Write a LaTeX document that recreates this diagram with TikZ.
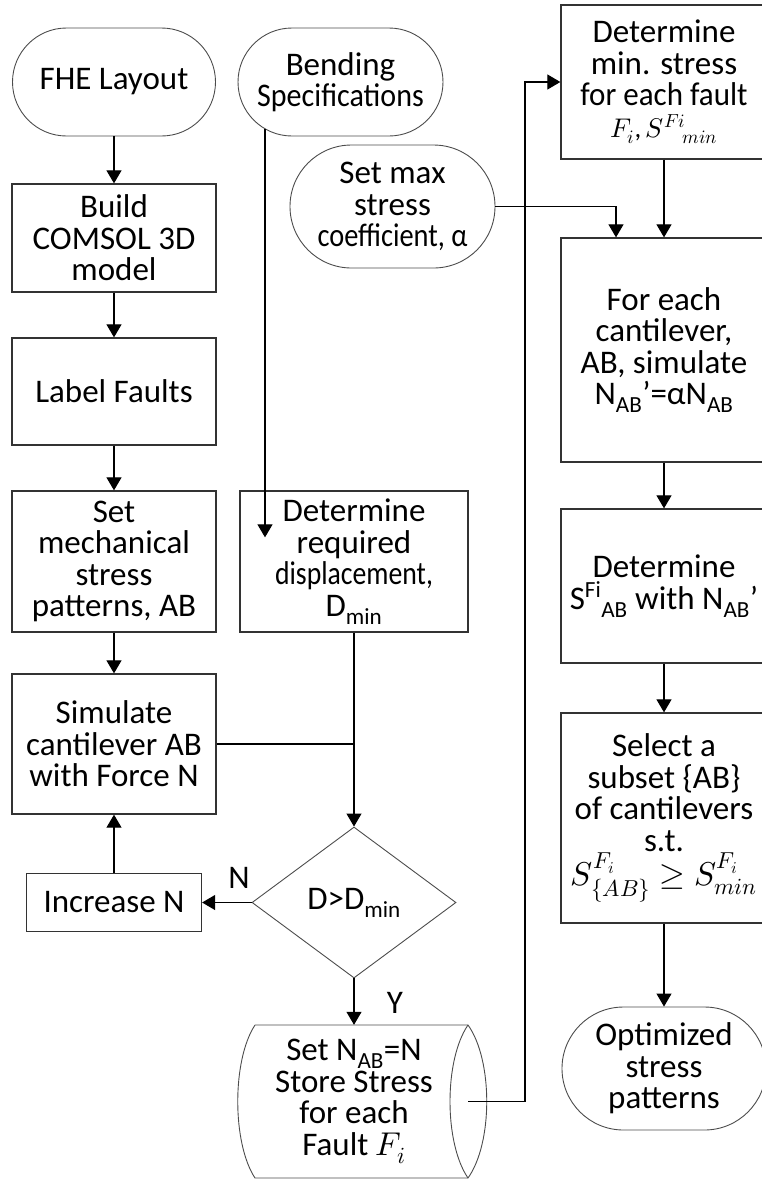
\documentclass[tikz,border=0pt]{standalone}
\usepackage{fontspec}
\usepackage{unicode-math}
\setmainfont{Carlito}
\setmathfont{Latin Modern Math}
\usepackage{tikz}
\usetikzlibrary{shapes, arrows.meta, positioning}

\tikzset{
  txt/.style={align=center, inner sep=0pt, font=\fontsize{33}{31.5}\selectfont},
  box/.style={txt, draw=black!80, line width=1.3pt, minimum width=204pt},
  term/.style={txt, draw=black!70, line width=0.9pt},
  arr/.style={-{Triangle[length=13pt,width=15pt]}, line width=1.1pt}
}
% squeeze a line that is wider than its box
\newcommand{\squeeze}[2]{\scalebox{#1}[1]{#2}}

\begin{document}
\begin{tikzpicture}[x=1pt, y=-1pt]
        \useasboundingbox (0,0) rectangle (762,1179);
        \clip (0,0) rectangle (762,1179);
        % left column
        \node[term, minimum width=203pt, minimum height=108pt, rounded corners=54pt] (fhe) at (114,82) {FHE Layout};
        \node[box, minimum height=108pt] (build) at (114,238) {Build\\COMSOL 3D\\model};
        \node[box, minimum height=107pt] (label) at (114,391.5) {Label Faults};
        \node[box, minimum height=141pt] (setab) at (114,561.5) {Set\\mechanical\\stress\\patterns, AB};
        \node[box, minimum height=140pt] (sim) at (114,744) {Simulate\\cantilever AB\\with Force N};
        \node[box, minimum width=175pt, minimum height=58pt] (inc) at (114,902.5) {Increase N};
        % middle column
        \node[term, minimum width=205pt, minimum height=108pt, rounded corners=54pt] (bend) at (340.5,82) {Bending\\\squeeze{0.91}{Specifications}};
        \node[term, minimum width=205pt, minimum height=123pt, rounded corners=61.5pt] (alpha) at (392.5,206.5) {Set max\\stress\\\squeeze{0.86}{coefficient, α}};
        \node[box, minimum width=228pt, minimum height=141pt] (req) at (354,561.5) {Determine\\required\\\squeeze{0.84}{displacement,}\\D\textsubscript{min}};
        \node[txt, shape=diamond, draw=black!70, line width=0.9pt, minimum width=204pt, minimum height=151pt] (dec) at (354,902.5) {D>D\textsubscript{min}};
        \node[txt, minimum width=198pt, minimum height=153pt] (st) at (354,1101.5) {Set N\textsubscript{AB}=N\\Store Stress\\for each\\Fault $F_i$};
        \draw[black!70, line width=0.9pt] (255,1025) -- (468,1025)
            .. controls (493,1060) and (493,1143) .. (468,1178) -- (255,1178)
            .. controls (232,1143) and (232,1060) .. (255,1025);
        \draw[black!70, line width=0.9pt] (468,1025) .. controls (444,1060) and (444,1143) .. (468,1178);
        % right column
        \node[box, minimum width=206pt, minimum height=154pt] (dmin) at (664,82) {Determine\\min. stress\\\squeeze{0.94}{for each fault}\\{\fontsize{27}{27}\selectfont$F_i$,\,$S^{Fi}{}_{\!min}$}};
        \node[box, minimum width=206pt, minimum height=224pt] (each) at (664,350) {For each\\cantilever,\\AB, simulate\\N\textsubscript{AB}’=αN\textsubscript{AB}};
        \node[box, minimum width=206pt, minimum height=154pt] (sfi) at (664,586) {Determine\\S\textsuperscript{Fi}\textsubscript{AB} with N\textsubscript{AB}’};
        \node[box, minimum width=206pt, minimum height=210pt] (sel) at (664,818) {Select a\\subset \{AB\}\\of cantilevers\\s.t.\\$S^{F_i}_{\{AB\}}\geq S^{F_i}_{min}$};
        \node[term, minimum width=204pt, minimum height=123pt, rounded corners=61.5pt] (opt) at (664,1068.5) {Optimized\\stress\\patterns};
        % labels
        \node[txt] (nlab) at (239,878) {N};
        \node[txt] (ylab) at (395,1003) {Y};
        % connectors
        \draw[arr] (fhe) -- (build);
        \draw[arr] (build) -- (label);
        \draw[arr] (label) -- (setab);
        \draw[arr] (setab) -- (sim);
        \draw[arr] (inc) -- (sim);
        \draw[arr] (dec.west) -- (inc.east);
        \draw[arr] (dec) -- (st);
        \draw[arr] (req) -- (dec);
        \draw[line width=1.1pt] (sim.east) -- (sim.east -| req.south);
        \draw[arr] ([xshift=-75.5pt,yshift=-47pt]bend.center) -- ([xshift=-75.5pt,yshift=-47pt]bend.center |- req.north);
        \draw[arr] (alpha.east) -| ([xshift=-48pt]each.north);
        \draw[arr] (dmin) -- (each);
        \draw[arr] (each) -- (sfi);
        \draw[arr] (sfi) -- (sel);
        \draw[arr] (sel) -- (opt);
        \coordinate (stout) at (468,1101.5);
        \draw[arr] (stout) -- ++(57,0) |- (dmin.west);
    \end{tikzpicture}
\end{document}
